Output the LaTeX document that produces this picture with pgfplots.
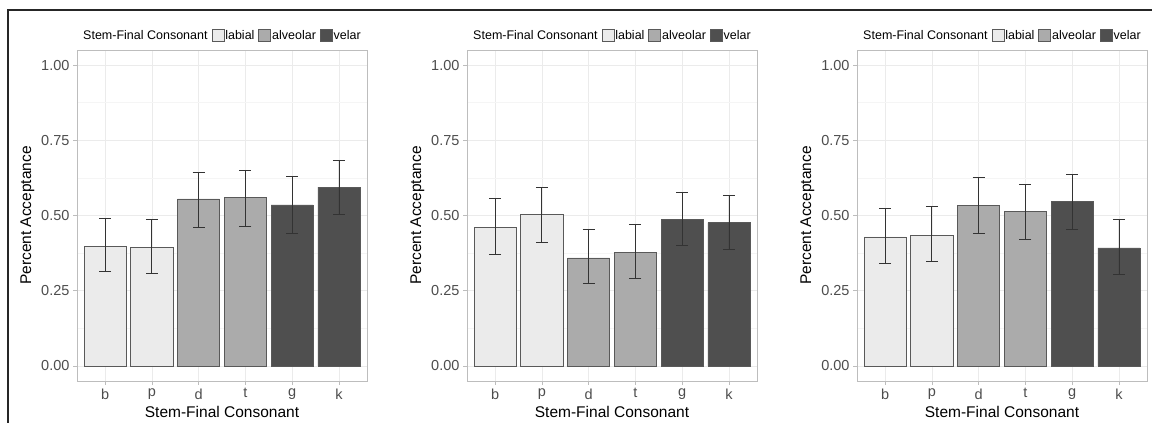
\documentclass[border=0pt]{standalone}
\usepackage{fontspec}
\setmainfont{Liberation Sans}
\usepackage{pgfplots}
\pgfplotsset{compat=1.18}
\definecolor{labial}{HTML}{EBEBEB}
\definecolor{alveolar}{HTML}{ABABAB}
\definecolor{velar}{HTML}{4F4F4F}
\definecolor{barline}{HTML}{595959}
\definecolor{frame}{HTML}{BDBDBD}
\definecolor{gridmaj}{HTML}{EBEBEB}
\definecolor{gridmin}{HTML}{F5F5F5}
\definecolor{tickgray}{HTML}{4D4D4D}
\definecolor{errc}{HTML}{333333}
\pgfplotsset{
  sqleg/.style={legend image code/.code={\draw[##1] (0pt,-6pt) rectangle (12pt,6pt);}},
  panel/.style={
    scale only axis, width=290pt, height=331pt,
    xmin=0.4, xmax=6.6, ymin=-0.05, ymax=1.05,
    xtick={1,2,3,4,5,6}, xticklabels={b,p,d,t,g,k},
    ytick={0,0.25,0.5,0.75,1},
    minor ytick={0.125,0.375,0.625,0.875},
    /pgf/number format/assume math mode=true,
    yticklabel style={/pgf/number format/.cd, fixed, fixed zerofill, precision=2},
    xmajorgrids, ymajorgrids, yminorgrids,
    major grid style={color=gridmaj, line width=0.6pt},
    minor grid style={color=gridmin, line width=0.5pt},
    axis line style={color=frame, line width=0.8pt},
    tick align=outside, major tick length=4pt, minor tick length=0pt,
    tick style={color=frame, line width=0.6pt},
    xtick pos=bottom, ytick pos=left,
    ticklabel style={font=\fontsize{14.5}{16}\selectfont, color=tickgray},
    xlabel={Stem-Final Consonant}, ylabel={Percent Acceptance},
    label style={font=\fontsize{15.5}{17}\selectfont, color=black},
    ybar, bar width=0.9, bar shift=0pt,
    every axis plot/.append style={draw=barline, line width=0.7pt},
    error bars/y dir=both, error bars/y explicit,
    error bars/error bar style={color=errc, line width=0.8pt},
    error bars/error mark options={color=errc, line width=0.8pt, mark size=6pt, rotate=90},
    legend columns=-1,
    legend style={at={(0.5,1)}, anchor=south, yshift=8pt, draw=none, fill=none,
      font=\fontsize{12.5}{14}\selectfont, inner sep=0pt,
      nodes={inner sep=1pt},
      /tikz/every odd column/.append style={column sep=0pt},
      /tikz/every even column/.append style={column sep=3pt}},
  }
}
\begin{document}
\begin{tikzpicture}
\useasboundingbox (0,0) rectangle (1152pt,423pt);
\draw[line width=1.5pt, color=black!85] (8pt,0pt) -- (8pt,413pt) -- (1152pt,413pt);

% Panel 1
\begin{axis}[panel, at={(77pt,42pt)}, anchor=south west]
\addlegendimage{empty legend}\addlegendentry{Stem-Final Consonant}
\addlegendimage{sqleg, fill=labial, draw=barline}\addlegendentry{labial}
\addlegendimage{sqleg, fill=alveolar, draw=barline}\addlegendentry{alveolar}
\addlegendimage{sqleg, fill=velar, draw=barline}\addlegendentry{velar}
\addplot[fill=labial, forget plot] coordinates {(1,0.398) += (0,0.091) -= (0,0.085) (2,0.394) += (0,0.092) -= (0,0.085)};
\addplot[fill=alveolar, forget plot] coordinates {(3,0.555) += (0,0.089) -= (0,0.093) (4,0.560) += (0,0.091) -= (0,0.095)};
\addplot[fill=velar, forget plot] coordinates {(5,0.535) += (0,0.094) -= (0,0.095) (6,0.594) += (0,0.088) -= (0,0.092)};
\end{axis}

% Panel 2
\begin{axis}[panel, at={(467pt,42pt)}, anchor=south west]
\addlegendimage{empty legend}\addlegendentry{Stem-Final Consonant}
\addlegendimage{sqleg, fill=labial, draw=barline}\addlegendentry{labial}
\addlegendimage{sqleg, fill=alveolar, draw=barline}\addlegendentry{alveolar}
\addlegendimage{sqleg, fill=velar, draw=barline}\addlegendentry{velar}
\addplot[fill=labial, forget plot] coordinates {(1,0.461) += (0,0.095) -= (0,0.091) (2,0.503) += (0,0.091) -= (0,0.091)};
\addplot[fill=alveolar, forget plot] coordinates {(3,0.359) += (0,0.094) -= (0,0.083) (4,0.376) += (0,0.096) -= (0,0.084)};
\addplot[fill=velar, forget plot] coordinates {(5,0.487) += (0,0.090) -= (0,0.086) (6,0.476) += (0,0.090) -= (0,0.088)};
\end{axis}

% Panel 3
\begin{axis}[panel, at={(857pt,42pt)}, anchor=south west]
\addlegendimage{empty legend}\addlegendentry{Stem-Final Consonant}
\addlegendimage{sqleg, fill=labial, draw=barline}\addlegendentry{labial}
\addlegendimage{sqleg, fill=alveolar, draw=barline}\addlegendentry{alveolar}
\addlegendimage{sqleg, fill=velar, draw=barline}\addlegendentry{velar}
\addplot[fill=labial, forget plot] coordinates {(1,0.429) += (0,0.094) -= (0,0.088) (2,0.435) += (0,0.095) -= (0,0.089)};
\addplot[fill=alveolar, forget plot] coordinates {(3,0.534) += (0,0.093) -= (0,0.095) (4,0.513) += (0,0.091) -= (0,0.093)};
\addplot[fill=velar, forget plot] coordinates {(5,0.546) += (0,0.089) -= (0,0.093) (6,0.392) += (0,0.096) -= (0,0.087)};
\end{axis}
\end{tikzpicture}
\end{document}
